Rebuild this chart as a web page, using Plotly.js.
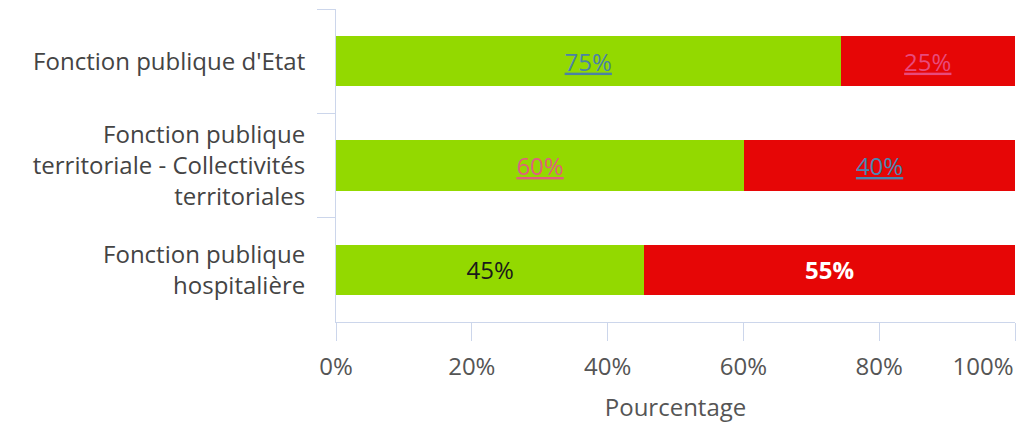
<!DOCTYPE html>
<html>
<head>
<meta charset="utf-8">
<script src="https://cdn.plot.ly/plotly-3.0.1.min.js"></script>
<style>html,body{margin:0;padding:0;background:#fff;}#chart{width:1030px;height:424px;}</style>
</head>
<body>
<div id="chart"></div>
<script>
const categories = [
  "Fonction publique d'Etat",
  "Fonction publique<br>territoriale - Collectivités<br>territoriales",
  "Fonction publique<br>hospitalière"
];
const greenValues = [74.3, 60.1, 45.4];
const redValues = [25.7, 39.9, 54.6];
const greenLabels = ["75%", "60%", "45%"];
const redLabels = ["25%", "40%", "55%"];
const greenLabelColors = ["#4b82a6", "#e0607e", "#1a1a1a"];
const redLabelColors = ["#e84a7c", "#4b86b2", "#ffffff"];
const xTicks = [0, 20, 40, 60, 80];
const xTickLabels = ["0%", "20%", "40%", "60%", "80%"];
const xLastTick = [100];
const xLastTickLabel = ["100%"];

const greenText = greenLabels.map((t, i) => i < 2 ? '<span style="text-decoration:underline">' + t + '</span>' : t);
const redText = redLabels.map((t, i) => i < 2 ? '<span style="text-decoration:underline">' + t + '</span>' : '<b>' + t + '</b>');

const font = "'Open Sans', 'Noto Sans', sans-serif";
const FS = 24;

const traces = [
  {
    type: 'bar', orientation: 'h', y: categories, x: greenValues,
    marker: {color: '#93d900', line: {width: 0}},
    text: greenText, textposition: 'inside', insidetextanchor: 'middle',
    textfont: {family: font, size: FS, color: greenLabelColors},
    hoverinfo: 'skip', cliponaxis: false
  },
  {
    type: 'bar', orientation: 'h', y: categories, x: redValues,
    marker: {color: '#e60606', line: {width: 0}},
    text: redText, textposition: 'inside', insidetextanchor: 'middle',
    textfont: {family: font, size: FS, color: redLabelColors},
    hoverinfo: 'skip', cliponaxis: false
  }
];

const layout = {
  width: 1030, height: 424,
  margin: {l: 336, r: 15, t: 9, b: 102},
  barmode: 'stack',
  bargap: 0.52,
  showlegend: false,
  paper_bgcolor: '#fff', plot_bgcolor: '#fff',
  font: {family: font, color: '#555'},
  xaxis: {
    range: [0, 100], tickvals: xTicks, ticktext: xTickLabels,
    showgrid: false, zeroline: false,
    showline: true, linecolor: '#ccd6eb', linewidth: 1,
    ticks: 'outside', ticklen: 18, tickcolor: '#ccd6eb', tickwidth: 1,
    ticklabelstandoff: 5,
    tickfont: {family: font, size: FS, color: '#555'},
    title: {text: 'Pourcentage', font: {family: font, size: FS, color: '#555'}, standoff: 18},
    fixedrange: true
  },
  xaxis2: {
    overlaying: 'x', side: 'bottom', anchor: 'y',
    range: [0, 100], tickvals: xLastTick, ticktext: xLastTickLabel,
    showgrid: false, zeroline: false, showline: false,
    ticks: 'outside', ticklen: 18, tickcolor: '#ccd6eb', tickwidth: 1,
    ticklabelstandoff: 5, ticklabelshift: -32,
    tickfont: {family: font, size: FS, color: '#555'},
    fixedrange: true
  },
  yaxis: {
    type: 'category', autorange: 'reversed',
    showgrid: false, zeroline: false,
    showline: true, linecolor: '#ccd6eb', linewidth: 1,
    ticks: 'outside', tickson: 'boundaries', ticklen: 18, tickcolor: '#ccd6eb', tickwidth: 1,
    ticklabelstandoff: 25,
    tickfont: {family: font, size: FS, color: '#444'},
    fixedrange: true
  },
  hovermode: false
};

Plotly.newPlot('chart', traces.concat([{type: 'scatter', x: [], y: [], xaxis: 'x2', yaxis: 'y', hoverinfo: 'skip'}]), layout, {displayModeBar: false, staticPlot: true});
</script>
</body>
</html>
